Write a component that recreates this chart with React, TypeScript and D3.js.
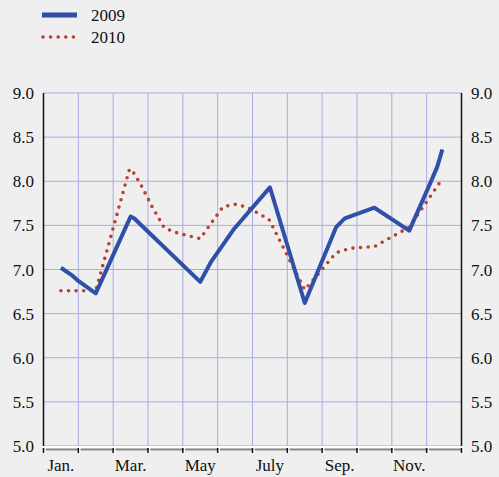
import React from 'react';
import * as d3 from 'd3';

// month index (0 = Jan. centre) and value
const months = ['Jan.', 'Feb.', 'Mar.', 'Apr.', 'May', 'June', 'July', 'Aug.', 'Sep.', 'Oct.', 'Nov.', 'Dec.'];
const monthLabels = ['Jan.', '', 'Mar.', '', 'May', '', 'July', '', 'Sep.', '', 'Nov.', ''];
const yTicks = [5.0, 5.5, 6.0, 6.5, 7.0, 7.5, 8.0, 8.5, 9.0];

const t2009 = [0, 0.3, 0.5, 1.0, 2.0, 2.1, 4.0, 4.3, 4.95, 6.0, 7.0, 7.9, 8.15, 9.0, 10.0, 10.55, 10.8, 10.95];
const v2009 = [7.02, 6.94, 6.87, 6.73, 7.60, 7.58, 6.86, 7.08, 7.45, 7.93, 6.62, 7.48, 7.58, 7.70, 7.44, 7.93, 8.16, 8.36];

const t2010 = [0, 1.0, 1.48, 1.97, 2.08, 2.31, 2.62, 2.97, 3.37, 4.0, 4.65, 5.03, 5.37, 5.97, 7.0, 7.9, 8.3, 9.0, 10.0, 10.9];
const v2010 = [6.76, 6.76, 7.44, 8.14, 8.10, 7.95, 7.71, 7.47, 7.41, 7.35, 7.71, 7.74, 7.70, 7.57, 6.77, 7.19, 7.24, 7.26, 7.48, 8.00];

const W = 499;
const H = 477;
const left = 43.5;
const right = 461.5;
const top = 93;
const bottom = 446;

const font = "'Liberation Serif', 'Times New Roman', 'DejaVu Serif', serif";
const blue = '#2f4fa9';
const red = '#b8402f';
const grid = '#a6ace4';
const txt = { fontFamily: font, fontSize: 17, fill: '#111' };

const App: React.FC = () => {
    const x = d3.scaleLinear().domain([-0.5, 11.5]).range([left, right]);
    const y = d3.scaleLinear().domain([5, 9]).range([bottom, top]);

    const line = d3.line<[number, number]>()
        .x(d => x(d[0]))
        .y(d => y(d[1]));

    const d2009 = line(t2009.map((t, i) => [t, v2009[i]] as [number, number])) || '';
    const d2010 = line(t2010.map((t, i) => [t, v2010[i]] as [number, number])) || '';

    const bounds = d3.range(months.length + 1).map(i => i - 0.5);

    return (
        <div style={{ position: 'absolute', left: 0, top: 0 }}>
            <svg width={W} height={H} style={{ display: 'block', background: '#efefef' }}>
                {/* legend */}
                <line x1={42} x2={77} y1={15} y2={15} stroke={blue} strokeWidth={5} />
                <text x={91} y={21} style={txt}>2009</text>
                <line x1={43} x2={77} y1={37} y2={37} stroke={red} strokeWidth={3.6}
                    strokeDasharray="0 7.6" strokeLinecap="round" />
                <text x={91} y={43} style={txt}>2010</text>

                {/* grid */}
                {yTicks.map(v => (
                    <line key={'h' + v} x1={left} x2={right} y1={y(v)} y2={y(v)} stroke={grid} strokeWidth={1} />
                ))}
                {bounds.slice(1, -1).map(b => (
                    <line key={'v' + b} x1={x(b)} x2={x(b)} y1={top} y2={bottom} stroke={grid} strokeWidth={1} />
                ))}

                {/* axes */}
                <line x1={left} x2={left} y1={top} y2={bottom} stroke="#111" strokeWidth={1.5} />
                <line x1={right} x2={right} y1={top} y2={bottom} stroke="#111" strokeWidth={1.5} />
                <line x1={left - 2} x2={right + 2} y1={bottom + 1} y2={bottom + 1} stroke="#fff" strokeWidth={2} />
                <line x1={left} x2={right} y1={bottom + 3.5} y2={bottom + 3.5} stroke="#8a8a8a" strokeWidth={2} />
                {bounds.map(b => (
                    <g key={'t' + b}>
                        <line x1={x(b) + 1.5} x2={x(b) + 1.5} y1={bottom + 2} y2={bottom + 7} stroke="#fff" strokeWidth={1.5} />
                        <line x1={x(b)} x2={x(b)} y1={bottom + 2} y2={bottom + 7} stroke="#111" strokeWidth={1.5} />
                    </g>
                ))}

                {/* tick labels */}
                {yTicks.map(v => (
                    <g key={'l' + v}>
                        <text x={34} y={y(v) + 6} textAnchor="end" style={txt}>{v.toFixed(1)}</text>
                        <text x={471} y={y(v) + 6} style={txt}>{v.toFixed(1)}</text>
                    </g>
                ))}
                {monthLabels.map((m, i) => m ? (
                    <text key={'m' + i} x={x(i)} y={471} textAnchor="middle" style={txt}>{m}</text>
                ) : null)}

                {/* series */}
                <path d={d2010} fill="none" stroke={red} strokeWidth={3.6} strokeDasharray="0 7.6" strokeLinecap="round" />
                <path d={d2009} fill="none" stroke={blue} strokeWidth={4} strokeLinejoin="round" />
            </svg>
        </div>
    );
};

export default App;
